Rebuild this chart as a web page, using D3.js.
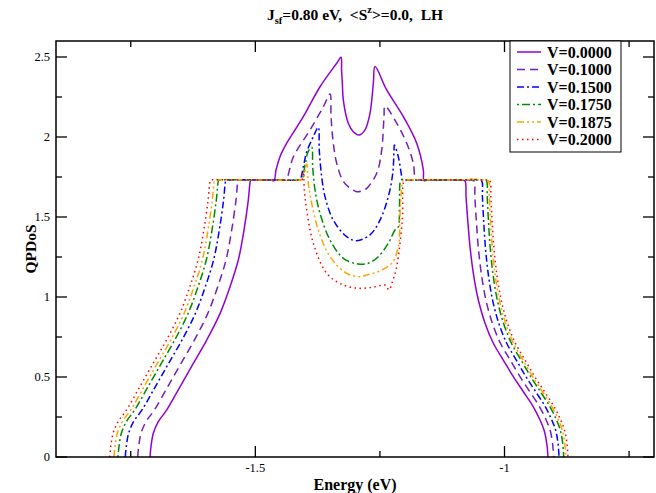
<!DOCTYPE html>
<html>
<head>
<meta charset="utf-8">
<script src="https://cdn.jsdelivr.net/npm/d3@7/dist/d3.min.js"></script>
<style>
  body { margin: 0; background: #fff; }
  text { font-family: "Liberation Serif", "Times New Roman", serif; }
</style>
</head>
<body>
<svg id="chart" width="656" height="493"></svg>
<script>

/* tick values */
var xMajor = [-1.5, -1];
var xMinor = [-1.75, -1.25, -0.75];
var yMajor = [0, 0.5, 1, 1.5, 2, 2.5];
var yMinor = [0.25, 0.75, 1.25, 1.75, 2.25];

var seriesNames = ["V=0.0000", "V=0.1000", "V=0.1500", "V=0.1750", "V=0.1875", "V=0.2000"];

/* [energy, qpdos] */
var v0000 = [[-1.7114,0],[-1.7094,0.064],[-1.7047,0.148],[-1.6947,0.221],[-1.6778,0.294],[-1.6512,0.439],[-1.6245,0.585],[-1.5976,0.731],[-1.5709,0.896],[-1.5508,1.064],[-1.5342,1.231],[-1.5227,1.419],[-1.5141,1.606],[-1.5101,1.723],[-1.5087,1.731],
  [-1.5027,1.732],[-1.4866,1.733],[-1.4685,1.731],[-1.4625,1.727],[-1.4585,1.794],[-1.4505,1.877],[-1.437,1.961],[-1.4037,2.127],[-1.3702,2.314],[-1.3367,2.461],[-1.328,2.498],
  [-1.327,2.42],[-1.3254,2.336],[-1.3234,2.231],[-1.3134,2.086],[-1.3034,2.033],[-1.2913,2.0125],[-1.2799,2.044],[-1.2699,2.148],[-1.2632,2.336],[-1.2598,2.44],
  [-1.2364,2.294],[-1.203,2.127],[-1.1762,1.961],[-1.1629,1.794],[-1.1615,1.727],[-1.1555,1.731],[-1.1194,1.733],[-1.0852,1.731],
  [-1.0792,1.725],[-1.0772,1.627],[-1.0738,1.481],[-1.0692,1.314],[-1.0625,1.148],[-1.0525,0.981],[-1.0391,0.836],[-1.0224,0.711],[-1.0024,0.606],[-0.9823,0.502],[-0.9622,0.408],[-0.9422,0.314],[-0.9287,0.231],[-0.9207,0.169],[-0.9153,0.086],[-0.9127,0]];

var v1000 = [[-1.7361,0],[-1.7341,0.064],[-1.7294,0.148],[-1.7194,0.221],[-1.7025,0.294],[-1.6759,0.439],[-1.6492,0.585],[-1.6223,0.731],[-1.5956,0.896],[-1.5755,1.064],[-1.5589,1.231],[-1.5474,1.419],[-1.5388,1.606],[-1.5348,1.723],[-1.5334,1.731],
  [-1.5274,1.732],[-1.49,1.732],[-1.4444,1.731],[-1.4384,1.733],[-1.4238,1.875],[-1.3903,2.044],[-1.3636,2.189],[-1.3501,2.269],[-1.3481,2.127],[-1.3435,1.961],[-1.3367,1.836],[-1.3234,1.721],[-1.31,1.681],[-1.2966,1.658],[-1.2859,1.663],[-1.2765,1.679],[-1.2564,1.773],[-1.2464,1.919],[-1.2418,2.127],[-1.2398,2.194],[-1.2163,2.086],[-1.1962,1.961],[-1.183,1.836],[-1.1782,1.731],
  [-1.1722,1.731],[-1.12,1.732],[-1.0671,1.731],
  [-1.0611,1.725],[-1.0595,1.627],[-1.0566,1.481],[-1.0527,1.314],[-1.0466,1.148],[-1.0373,0.981],[-1.0244,0.836],[-1.0082,0.711],[-0.9886,0.606],[-0.9689,0.502],[-0.9492,0.408],[-0.9296,0.314],[-0.9164,0.231],[-0.9086,0.169],[-0.9036,0.086],[-0.9013,0]];

var v1500 = [[-1.761,0],[-1.759,0.064],[-1.7543,0.148],[-1.7443,0.221],[-1.7274,0.294],[-1.7008,0.439],[-1.6741,0.585],[-1.6472,0.731],[-1.6205,0.896],[-1.6004,1.064],[-1.5838,1.231],[-1.5723,1.419],[-1.5637,1.606],[-1.5597,1.723],[-1.5583,1.731],
  [-1.5523,1.732],[-1.48,1.732],[-1.4163,1.731],[-1.4103,1.735],[-1.4037,1.814],[-1.397,1.906],[-1.3837,2.002],[-1.3737,2.061],[-1.3717,1.919],[-1.3669,1.752],[-1.3602,1.627],[-1.3436,1.481],[-1.3167,1.377],[-1.2966,1.352],[-1.2699,1.388],[-1.2498,1.481],[-1.2332,1.627],[-1.2243,1.773],[-1.2217,1.919],[-1.2211,1.95],[-1.2131,1.877],[-1.2063,1.752],[-1.2051,1.734],
  [-1.1991,1.731],[-1.12,1.732],[-1.0517,1.731],
  [-1.0457,1.725],[-1.0443,1.627],[-1.0419,1.481],[-1.0384,1.314],[-1.0328,1.148],[-1.0239,0.981],[-1.0115,0.836],[-0.9956,0.711],[-0.9763,0.606],[-0.9569,0.502],[-0.9374,0.408],[-0.918,0.314],[-0.9051,0.231],[-0.8975,0.169],[-0.8926,0.086],[-0.8906,0]];

var v1750 = [[-1.7756,0],[-1.7736,0.064],[-1.7689,0.148],[-1.7589,0.221],[-1.742,0.294],[-1.7154,0.439],[-1.6887,0.585],[-1.6618,0.731],[-1.6351,0.896],[-1.615,1.064],[-1.5984,1.231],[-1.5869,1.419],[-1.5783,1.606],[-1.5743,1.723],[-1.5729,1.731],
  [-1.5669,1.732],[-1.49,1.732],[-1.4129,1.731],[-1.4069,1.735],[-1.4003,1.825],[-1.3943,1.906],[-1.3869,1.936],[-1.3849,1.814],[-1.3802,1.669],[-1.3702,1.523],[-1.3501,1.356],[-1.3234,1.242],[-1.2933,1.206],[-1.2733,1.211],[-1.2532,1.252],[-1.2332,1.336],[-1.2197,1.419],[-1.2131,1.439],[-1.2107,1.575],[-1.2077,1.731],
  [-1.2017,1.731],[-1.12,1.732],[-1.0421,1.731],
  [-1.0361,1.725],[-1.0347,1.627],[-1.0323,1.481],[-1.0288,1.314],[-1.0233,1.148],[-1.0144,0.981],[-1.002,0.836],[-0.9861,0.711],[-0.9668,0.606],[-0.9474,0.502],[-0.928,0.408],[-0.9086,0.314],[-0.8956,0.231],[-0.8881,0.169],[-0.8832,0.086],[-0.8812,0]];

var v1875 = [[-1.7836,0],[-1.7816,0.064],[-1.7769,0.148],[-1.7669,0.221],[-1.75,0.294],[-1.7234,0.439],[-1.6967,0.585],[-1.6698,0.731],[-1.6431,0.896],[-1.623,1.064],[-1.6064,1.231],[-1.5949,1.419],[-1.5863,1.606],[-1.5823,1.723],[-1.5809,1.731],
  [-1.5749,1.732],[-1.49,1.732],[-1.4103,1.731],[-1.4043,1.735],[-1.397,1.831],[-1.3937,1.711],[-1.3869,1.586],[-1.3736,1.419],[-1.3501,1.252],[-1.3167,1.148],[-1.29,1.127],[-1.2765,1.138],[-1.2538,1.158],[-1.2263,1.211],[-1.2131,1.314],[-1.2097,1.513],[-1.2067,1.669],[-1.2037,1.728],
  [-1.1977,1.731],[-1.12,1.732],[-1.038,1.731],
  [-1.032,1.725],[-1.0306,1.627],[-1.0282,1.481],[-1.0248,1.314],[-1.0192,1.148],[-1.0103,0.981],[-0.9979,0.836],[-0.9821,0.711],[-0.9628,0.606],[-0.9434,0.502],[-0.9239,0.408],[-0.9046,0.314],[-0.8916,0.231],[-0.8841,0.169],[-0.8792,0.086],[-0.8772,0]];

var v2000 = [[-1.7921,0],[-1.7901,0.064],[-1.7854,0.148],[-1.7754,0.221],[-1.7585,0.294],[-1.7319,0.439],[-1.7052,0.585],[-1.6783,0.731],[-1.6516,0.896],[-1.6315,1.064],[-1.6149,1.231],[-1.6034,1.419],[-1.5948,1.606],[-1.5908,1.723],[-1.5894,1.731],
  [-1.5834,1.732],[-1.49,1.732],[-1.4123,1.731],[-1.4063,1.735],[-1.4037,1.781],[-1.4017,1.669],[-1.397,1.544],[-1.3836,1.336],[-1.3568,1.148],[-1.3234,1.075],[-1.29,1.054],[-1.2598,1.064],[-1.2398,1.075],[-1.2317,1.044],[-1.2257,1.088],[-1.2164,1.189],[-1.2051,1.481],[-1.2011,1.728],
  [-1.1951,1.731],[-1.12,1.732],[-1.035,1.731],
  [-1.029,1.725],[-1.0275,1.627],[-1.025,1.481],[-1.0214,1.314],[-1.0157,1.148],[-1.0066,0.981],[-0.9941,0.836],[-0.9781,0.711],[-0.9587,0.606],[-0.9393,0.502],[-0.9197,0.408],[-0.9003,0.314],[-0.8872,0.231],[-0.8796,0.169],[-0.8747,0.086],[-0.8726,0]];

var allSeries = [v0000, v1000, v1500, v1750, v1875, v2000];

/* grace-like colours and line styles */
var lineColors = ["rgb(148,0,211)", "rgb(114,33,188)", "rgb(0,0,255)", "rgb(0,139,0)", "rgb(255,165,0)", "rgb(255,0,0)"];
var lineDash = [null, "8,5", "7,3,2,3", "2,3,8,3", "7,3,2,3,2,3", "1.5,3.5"];

var svg = d3.select("#chart"),
    pLeft = 56, pRight = 654, pTop = 41, pBottom = 457;

var x = d3.scaleLinear().domain([-1.9, -0.7]).range([pLeft, pRight]);
var y = d3.scaleLinear().domain([0, 2.6]).range([pBottom, pTop]);

svg.append("defs").append("clipPath").attr("id", "clip")
    .append("rect")
    .attr("x", pLeft).attr("y", pTop)
    .attr("width", pRight - pLeft).attr("height", pBottom - pTop);

var line = d3.line()
    .curve(d3.curveCatmullRom.alpha(0.5))
    .x(function (d) { return x(d[0]); })
    .y(function (d) { return y(d[1]); });

var curves = svg.append("g").attr("clip-path", "url(#clip)");

allSeries.forEach(function (s, i) {
    curves.append("path")
        .datum(s)
        .attr("d", line)
        .attr("fill", "none")
        .attr("stroke", lineColors[i])
        .attr("stroke-width", 1.5)
        .attr("stroke-dasharray", lineDash[i]);
});

// frame
svg.append("rect")
    .attr("x", pLeft).attr("y", pTop)
    .attr("width", pRight - pLeft).attr("height", pBottom - pTop)
    .attr("fill", "none").attr("stroke", "#000").attr("stroke-width", 1.5);

// inward ticks on all four sides
var ticks = svg.append("g").attr("stroke", "#000").attr("stroke-width", 1.3);
function tickX(v, len) {
    ticks.append("line").attr("x1", x(v)).attr("x2", x(v)).attr("y1", pBottom).attr("y2", pBottom - len);
    ticks.append("line").attr("x1", x(v)).attr("x2", x(v)).attr("y1", pTop).attr("y2", pTop + len);
}
function tickY(v, len) {
    ticks.append("line").attr("y1", y(v)).attr("y2", y(v)).attr("x1", pLeft).attr("x2", pLeft + len);
    ticks.append("line").attr("y1", y(v)).attr("y2", y(v)).attr("x1", pRight).attr("x2", pRight - len);
}
xMajor.forEach(function (v) { tickX(v, 11); });
xMinor.forEach(function (v) { tickX(v, 6); });
yMajor.forEach(function (v) { tickY(v, 11); });
yMinor.forEach(function (v) { tickY(v, 6); });

svg.append("g").selectAll("text")
    .data(xMajor)
    .enter().append("text")
    .attr("x", function (d) { return x(d); })
    .attr("y", pBottom + 15)
    .attr("text-anchor", "middle")
    .style("font-size", "12.5px")
    .text(function (d) { return String(d); });

svg.append("g").selectAll("text")
    .data(yMajor)
    .enter().append("text")
    .attr("x", pLeft - 6)
    .attr("y", function (d) { return y(d) + 4; })
    .attr("text-anchor", "end")
    .style("font-size", "12.5px")
    .text(function (d) { return String(d); });

// axis labels
svg.append("text")
    .attr("x", (pLeft + pRight) / 2).attr("y", pBottom + 33)
    .attr("text-anchor", "middle")
    .style("font-size", "16px").style("font-weight", "bold")
    .text("Energy (eV)");

svg.append("text")
    .attr("transform", "translate(" + 36 + "," + (pTop + pBottom) / 2 + ") rotate(-90)")
    .attr("text-anchor", "middle")
    .style("font-size", "15.5px").style("font-weight", "bold")
    .text("QPDoS");

// title
var title = svg.append("text")
    .attr("x", (pLeft + pRight) / 2).attr("y", 20)
    .attr("text-anchor", "middle")
    .style("font-size", "15.5px").style("font-weight", "bold")
    .style("white-space", "pre");
title.append("tspan").text("J");
title.append("tspan").attr("dy", 4).style("font-size", "10.5px").text("sf");
title.append("tspan").attr("dy", -4).text("=0.80 eV,  <S");
title.append("tspan").attr("dy", -7).style("font-size", "10.5px").text("z");
title.append("tspan").attr("dy", 7).text(">=0.0,  LH");

// legend
var legend = svg.append("g");
legend.append("rect")
    .attr("x", 510).attr("y", pTop)
    .attr("width", 111).attr("height", 111)
    .attr("fill", "#fff").attr("stroke", "#000").attr("stroke-width", 1);

seriesNames.forEach(function (name, i) {
    var ly = 52 + i * 17.5;
    legend.append("line")
        .attr("x1", 517).attr("x2", 541)
        .attr("y1", ly).attr("y2", ly)
        .attr("stroke", lineColors[i])
        .attr("stroke-width", 1.5)
        .attr("stroke-dasharray", lineDash[i]);
    legend.append("text")
        .attr("x", 547).attr("y", ly + 5.5)
        .style("font-size", "16px").style("font-weight", "bold")
        .text(name);
});

</script>
</body>
</html>
